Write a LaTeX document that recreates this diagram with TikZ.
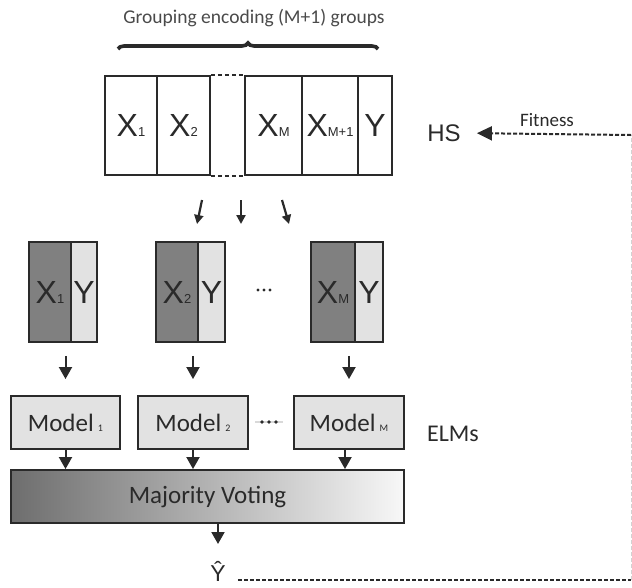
\documentclass[tikz,border=0pt]{standalone}
\usepackage{fontspec}
\setmainfont{Liberation Sans}
\newfontfamily\carlito{Carlito}
\usetikzlibrary{arrows.meta,decorations.pathreplacing,calc}
\definecolor{ink}{HTML}{2A2A2A}
\definecolor{darkfill}{HTML}{808080}
\definecolor{lightfill}{HTML}{E2E2E2}
\newcommand{\fs}[1]{\fontsize{#1}{#1}\selectfont}
\newcommand{\tsub}[1]{{\fs{13}#1}}
\newcommand{\msub}[1]{{\fs{10}#1}}
\tikzset{
  cell/.style={draw=ink, line width=1.9pt, minimum height=99pt, inner sep=0pt,
    text=ink, font=\fs{32}},
  darkcell/.style={cell, fill=darkfill, minimum height=100pt},
  lightcell/.style={cell, fill=lightfill, minimum height=100pt},
  modelbox/.style={draw=ink, line width=1.9pt, fill=lightfill, minimum height=53pt,
    inner sep=0pt, font=\carlito\fs{25}, text=ink},
  arr/.style={draw=ink, line width=2pt, -{Triangle[length=12pt,width=13pt]}},
  smallarr/.style={draw=ink, line width=2.2pt, -{Triangle[length=9pt,width=9pt]}},
  fitline/.style={draw=ink, line width=2pt, dash pattern=on 4pt off 2pt},
  label/.style={inner sep=0pt, text=ink},
}
\begin{document}
\begin{tikzpicture}[x=1pt, y=-1pt]
\useasboundingbox (0,0) rectangle (632,587);

% title and brace
\node[label, text=ink!85, font=\carlito\fs{19.5}] (title) at (254,18) {Grouping encoding (M+1) groups};
\draw[draw=ink, line width=3.6pt, decorate, decoration={brace, amplitude=6pt}] (118,49) -- (378,49);

% grouping encoding
\node[cell, minimum width=52pt] (t1) at (131,125.5) {X\tsub{1}};
\node[cell, minimum width=53pt] (t2) at (183.5,125.5) {X\tsub{2}};
\node[cell, minimum width=57pt] (tM) at (273.5,125.5) {X\tsub{M}};
\node[cell, minimum width=56pt] (tM1) at (330,125.5) {X\tsub{M+1}};
\node[cell, minimum width=34pt] (tY) at (375,125.5) {Y};
\draw[draw=ink, line width=1.9pt, dash pattern=on 4pt off 3pt] (t2.north east) -- (tM.north west);
\draw[draw=ink, line width=1.9pt, dash pattern=on 4pt off 3pt] (t2.south east) -- (tM.south west);

% HS and fitness feedback
\node[label, font=\fs{24}] (hs) at (444,133) {HS};
\node[label, font=\carlito\fs{19}] (fit) at (547,120) {Fitness};

% split arrows
\coordinate (a1s) at (202,200); \coordinate (a1e) at (197,224);
\coordinate (a2s) at (241,200); \coordinate (a2e) at (241,224);
\coordinate (a3s) at (282,200); \coordinate (a3e) at (289,224);
\draw[smallarr] (a1s) -- (a1e);
\draw[smallarr] (a2s) -- (a2e);
\draw[smallarr] (a3s) -- (a3e);

% feature subsets
\node[darkcell, minimum width=42pt] (b1x) at (50,292) {X\tsub{1}};
\node[lightcell, minimum width=26pt] (b1y) at (84,292) {Y};
\node[darkcell, minimum width=42pt] (b2x) at (177,292) {X\tsub{2}};
\node[lightcell, minimum width=27pt] (b2y) at (211.5,292) {Y};
\node[darkcell, minimum width=44pt] (b3x) at (333,292) {X\tsub{M}};
\node[lightcell, minimum width=28pt] (b3y) at (369,292) {Y};
\foreach \x in {258,264,270} \fill[ink] (\x,290) circle (1.7pt);

% models
\node[modelbox, minimum width=109pt] (m1) at (65.5,422.5) {Model\,\msub{1}};
\node[modelbox, minimum width=110pt] (m2) at (193,422.5) {Model\,\msub{2}};
\node[modelbox, minimum width=110pt] (mM) at (349,422.5) {Model\,\msub{M}};
\draw[draw=gray!30, line width=2pt] (255,422) -- (283,422);
\foreach \x in {262,269,276} \fill[ink] (\x,422) circle (1.9pt);
\node[label, font=\carlito\fs{24}] (elm) at (453,434) {ELMs};

\draw[arr, shorten <=13pt, shorten >=16pt] (m1.north |- b1x.south) -- (m1.north);
\draw[arr, shorten <=13pt, shorten >=16pt] (m2.north |- b2x.south) -- (m2.north);
\draw[arr, shorten <=13pt, shorten >=16pt] (mM.north |- b3x.south) -- (mM.north);

% majority voting
\node[draw=ink, line width=1.9pt, left color=black!57, right color=black!3,
  minimum width=393pt, minimum height=53pt, inner sep=0pt,
  font=\carlito\fs{25}, text=ink] (vote) at (207.5,496.5) {Majority Voting};
\draw[arr] (m1.south) -- (m1.south |- vote.north);
\draw[arr] (m2.south) -- (m2.south |- vote.north);
\draw[arr] ($(mM.south)+(-4,0)$) -- ($(mM.south |- vote.north)+(-4,0)$);

% output
\node[label, font=\fs{23}, anchor=base] (yhat) at (218,581) {Ŷ};
\coordinate (yin) at (218,544);
\draw[arr] (vote.south -| yin) -- (yin);

% feedback path
\coordinate (cB) at (631,580);
\coordinate (cT) at (631,135);
\draw[fitline, shorten <=12pt] (yhat.east |- cB) -- (cB);
\draw[draw=gray!35, line width=1pt, dash pattern=on 4pt off 2pt] (cB) -- (cT);
\draw[fitline, shorten >=16pt, -{Triangle[length=15pt,width=14pt]}] (cT) -- (hs.east);
\end{tikzpicture}
\end{document}
